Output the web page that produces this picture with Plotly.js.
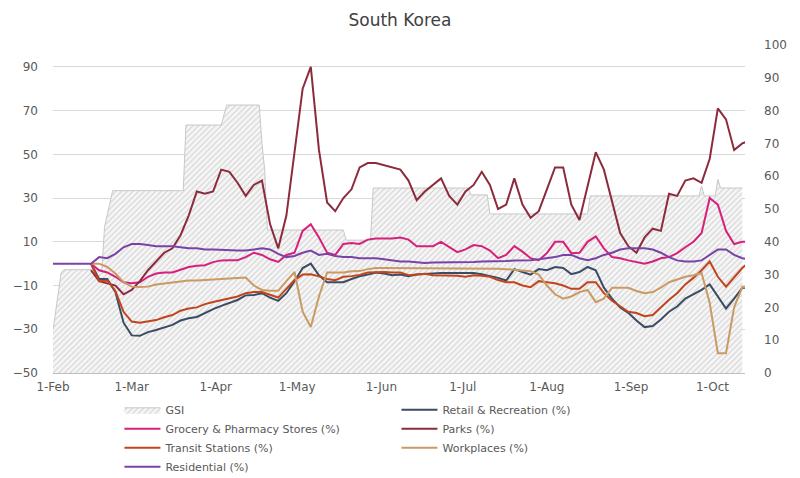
<!DOCTYPE html>
<html>
<head>
<meta charset="utf-8">
<script src="https://cdn.plot.ly/plotly-3.0.1.min.js"></script>
<style>html,body{margin:0;padding:0;background:#fff;}#chart{width:800px;height:478px;}</style>
</head>
<body>
<div id="chart"></div>
<script>
// Mobility sample dates (first entry is the pre-baseline start for Residential)
const dates = ['2020-02-01','2020-02-15','2020-02-18','2020-02-21','2020-02-24','2020-02-27','2020-03-01','2020-03-04','2020-03-07','2020-03-10','2020-03-13','2020-03-16','2020-03-19','2020-03-22','2020-03-25','2020-03-28','2020-03-31','2020-04-03','2020-04-06','2020-04-09','2020-04-12','2020-04-15','2020-04-18','2020-04-21','2020-04-24','2020-04-27','2020-04-30','2020-05-03','2020-05-06','2020-05-09','2020-05-12','2020-05-15','2020-05-18','2020-05-21','2020-05-24','2020-05-27','2020-05-30','2020-06-02','2020-06-05','2020-06-08','2020-06-11','2020-06-14','2020-06-17','2020-06-20','2020-06-23','2020-06-26','2020-06-29','2020-07-02','2020-07-05','2020-07-08','2020-07-11','2020-07-14','2020-07-17','2020-07-20','2020-07-23','2020-07-26','2020-07-29','2020-08-01','2020-08-04','2020-08-07','2020-08-10','2020-08-13','2020-08-16','2020-08-19','2020-08-22','2020-08-25','2020-08-28','2020-08-31','2020-09-03','2020-09-06','2020-09-09','2020-09-12','2020-09-15','2020-09-18','2020-09-21','2020-09-24','2020-09-27','2020-09-30','2020-10-03','2020-10-06','2020-10-09','2020-10-12','2020-10-14'];

const retail = [null,0,-7,-7,-13,-27,-32.8,-33,-31.3,-30.3,-29,-28,-26,-25,-24.4,-22.5,-20.8,-19.3,-17.8,-16.6,-14.5,-14.3,-13.5,-15.5,-17,-13.5,-8,-2,0,-5.3,-8.5,-8.5,-8.5,-7,-5.8,-5,-4,-4.5,-5.3,-5,-5.7,-5,-4.6,-4.5,-4.3,-4.3,-4.3,-4.3,-4.3,-4.8,-5.5,-6.5,-7.7,-2.5,-3.8,-5,-2.5,-3,-1.5,-2,-4.8,-3.8,-1.5,-3,-11,-16,-20,-22.5,-26,-29,-28.5,-25.5,-22,-19.6,-16,-14,-12,-9.5,-15,-20.5,-16,-11,-11];

const grocery = [null,0,-3,-4,-6,-8.5,-9,-8.5,-6,-4.5,-4,-4,-2.6,-1.5,-1,-0.7,0.7,1.5,1.6,1.6,3,5,4,2,0.8,4,5,15,18,12,5,4,9,9.4,9,11,11.5,11.5,11.5,12,11,8,8,8,10,7.6,5.3,6.5,8.5,8,6,2.5,4,8,5.5,2.5,1.6,4.8,10,10,4.8,5,10,12.5,7,3,2.5,1.5,0.8,0,1,2.5,3,4.8,7.5,10,14,30,27,15,9,10,10];

const parks = [null,-3,-8,-9,-10,-14,-12,-8,-3,1,5,7,13,22,33,32,33,43,42,37,31,36,38,18,7,22,52,80,90,52,28,24,30,34,44,46,46,45,44,43,38,29,33,36,39,31,27,33,36,42,36,25,27,39,27,21,24,34,44,44,27,20,35,51,43,28,14,8,5,12,16,15,32,31,38,39,37,48,71,66,52,55,56];

const transit = [null,0,-8,-7.7,-12.5,-22,-26.5,-27,-26.5,-25.8,-24.5,-23.5,-21.5,-20.5,-20,-18.5,-17.5,-16.6,-16,-15,-13.5,-13,-13,-14.3,-15.5,-11.5,-7.5,-5,-4.8,-5.8,-7,-7.6,-6,-5.7,-5.2,-4,-3.8,-3.8,-4,-4,-5.3,-5,-4.6,-5.3,-5.3,-5.3,-5.5,-6,-5.3,-5.5,-6,-7.5,-8.5,-8.5,-10,-10.8,-8,-8.5,-9,-10,-11.5,-11.5,-8.5,-8.5,-13.5,-17,-19.5,-22,-22.6,-24,-23.5,-20,-16.5,-13.5,-9.5,-6.5,-3,1,-6,-10.5,-6,-2,0.3];

const workplaces = [null,0,0,-1.5,-4.5,-8.5,-10.5,-10.7,-10.5,-9.5,-9,-8.5,-8,-7.7,-7.7,-7.5,-7.3,-7,-7,-6.5,-6.3,-10,-12,-12.4,-12.4,-8,-3.8,-22,-29,-15,-4,-4,-4,-3.5,-3.4,-2.5,-2,-2,-2,-2,-2,-2,-2,-2,-2,-2,-2,-2,-2,-2,-2,-2.3,-2.5,-2.8,-3,-3.5,-5,-10,-14,-16,-15,-13,-12,-17.6,-16,-11,-11,-11,-12.5,-13.5,-13,-11,-8.5,-7.3,-6,-5.3,-4.3,-18,-41,-41,-20,-10.7,-10.7];

const residential = [0,0,3,2.5,4.5,7.5,9,9,8.5,8,8,8,7.5,7,7,6.5,6.5,6.3,6,6,6,6.5,7,6.5,4.5,3,3.5,5,6,4,4.5,3.5,3,3,2.5,2.5,2.5,2,1.5,1,1,0.5,0.3,0.5,0.5,0.5,0.8,0.8,0.8,1,1,1,1.2,1.5,1.5,1.6,2,2.5,3,4,4,2.5,1.6,2.5,4,5,6.5,7,7,7,6.5,5,3,1.5,1,1,1.5,4,6.5,6.5,4,2.5,2];

// Government Stringency Index (right axis), read at its change points
const gsiDates = ['2020-02-01','2020-02-04','2020-02-05','2020-02-19','2020-02-20','2020-02-23','2020-03-20','2020-03-21','2020-04-03','2020-04-05','2020-04-17','2020-04-18','2020-04-19','2020-04-20','2020-05-18','2020-05-19','2020-05-28','2020-05-29','2020-07-03','2020-07-04','2020-07-10','2020-07-11','2020-08-16','2020-08-17','2020-09-26','2020-09-27','2020-09-28','2020-10-02','2020-10-03','2020-10-04','2020-10-12'];
const gsi = [13.1,30.5,31.5,31.5,44.5,55.6,55.6,75.6,75.6,81.7,81.7,70,62,43.6,43.6,40.5,40.5,56.4,56.4,54.3,54.3,48.5,48.5,54,54,57,54,54,59,56.4,56.4];

const tickDates = ['2020-02-01','2020-03-01','2020-04-01','2020-05-01','2020-06-01','2020-07-01','2020-08-01','2020-09-01','2020-10-01'];
const tickLabels = ['1-Feb','1-Mar','1-Apr','1-May','1-Jun','1-Jul','1-Aug','1-Sep','1-Oct'];
const leftTicks = [-50,-30,-10,10,30,50,70,90];
const leftRange = [-50,100];
const rightRange = [0,100];

const FONT = 'DejaVu Sans, Verdana, sans-serif';
const lw = 2;

// gridlines of the left (mobility) scale, expressed on the right (GSI) scale so that
// they sit beneath the GSI area, as in the reference
const toRight = v => rightRange[0] + (v - leftRange[0]) * (rightRange[1]-rightRange[0]) / (leftRange[1]-leftRange[0]);
const gridOnRight = leftTicks.slice(1).map(toRight);

const traces = [
  {name:'GSI', x:gsiDates, y:gsi, yaxis:'y', type:'scatter', mode:'lines',
   line:{color:'#c8c8c8', width:1}, fill:'tozeroy',
   fillpattern:{shape:'/', fgcolor:'#cfcfcf', bgcolor:'#f6f6f6', size:4, solidity:0.25}},
  {name:'Retail & Recreation (%)', x:dates, y:retail, yaxis:'y2', mode:'lines', line:{color:'#3b4b63', width:lw}},
  {name:'Grocery & Pharmacy Stores (%)', x:dates, y:grocery, yaxis:'y2', mode:'lines', line:{color:'#d6207c', width:lw}},
  {name:'Parks (%)', x:dates, y:parks, yaxis:'y2', mode:'lines', line:{color:'#8c2b3c', width:lw}},
  {name:'Transit Stations (%)', x:dates, y:transit, yaxis:'y2', mode:'lines', line:{color:'#c2441c', width:lw}},
  {name:'Workplaces (%)', x:dates, y:workplaces, yaxis:'y2', mode:'lines', line:{color:'#c99a64', width:lw}},
  {name:'Residential (%)', x:dates, y:residential, yaxis:'y2', mode:'lines', line:{color:'#7b42a6', width:lw}}
];

const layout = {
  width:800, height:478,
  margin:{l:53, r:55, t:45, b:105, autoexpand:false},
  paper_bgcolor:'#ffffff', plot_bgcolor:'#ffffff',
  font:{family:FONT, size:12, color:'#595959'},
  title:{text:'South Korea', x:0.5, xanchor:'center', y:0.958, yanchor:'middle',
         font:{family:FONT, size:17, color:'#404040'}},
  showlegend:true,
  legend:{orientation:'h', x:0.096, xanchor:'left', y:-0.068, yanchor:'top',
          entrywidth:226, entrywidthmode:'pixels', itemwidth:36, tracegroupgap:0,
          font:{family:FONT, size:11, color:'#595959'}, bgcolor:'rgba(0,0,0,0)'},
  xaxis:{type:'date', range:['2020-02-01','2020-10-13'], tickvals:tickDates, ticktext:tickLabels,
         showgrid:false, showline:true, linecolor:'#bfbfbf', linewidth:1, ticks:'', zeroline:false,
         ticklabelstandoff:3, tickfont:{family:FONT, size:12, color:'#595959'}},
  yaxis:{range:rightRange, dtick:10, side:'right', showgrid:false, zeroline:false, showline:false, ticks:'',
         ticklabelstandoff:18,
         minor:{tickvals:gridOnRight, showgrid:true, gridcolor:'#d9d9d9', gridwidth:1, ticks:''},
         tickfont:{family:FONT, size:12, color:'#595959'}},
  yaxis2:{range:leftRange, tickvals:leftTicks, overlaying:'y', side:'left', showgrid:false,
          zeroline:false, showline:false, ticks:'', ticklabelstandoff:14,
          tickfont:{family:FONT, size:12, color:'#595959'}}
};

Plotly.newPlot('chart', traces, layout, {displayModeBar:false, staticPlot:true});
</script>
</body>
</html>
